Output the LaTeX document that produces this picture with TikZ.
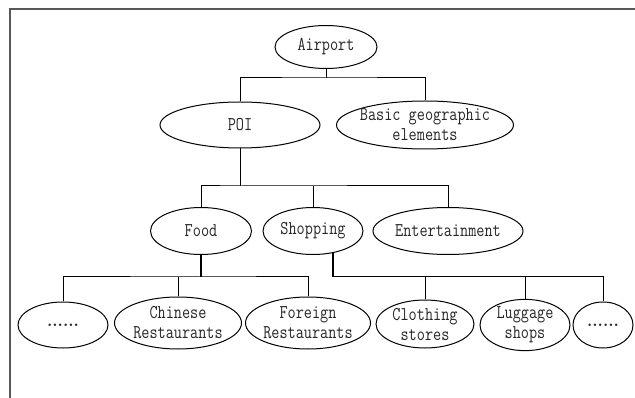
\documentclass[tikz,border=0pt]{standalone}
\usepackage{fontspec}
\setmonofont[FakeStretch=0.81]{Latin Modern Mono}
\usetikzlibrary{shapes.geometric}

\begin{document}
\begin{tikzpicture}[x=1pt, y=-1pt,
    topic/.style={draw, ellipse, inner sep=0pt, line width=1pt, align=center,
      font=\fontsize{19.5}{20}\selectfont\ttfamily, text=black!85},
    more/.style={topic, font=\fontsize{17}{20}\selectfont\rmfamily\bfseries},
    link/.style={line width=1pt}]
    \useasboundingbox (0,0) rectangle (635,398);
    \draw[black!65, line width=1.5pt] (10,398) -- (10,9) -- (635,9);

    % root and first level
    \node[topic, minimum width=102pt, minimum height=43pt] (airport) at (326,47) {Airport};
    \node[topic, minimum width=160pt, minimum height=46pt] (poi) at (240,125) {POI};
    \node[topic, minimum width=177pt, minimum height=48pt, inner xsep=-7pt] (geo) at (425,125) {Basic geographic\\elements};

    % second level
    \node[topic, minimum width=101pt, minimum height=47pt] (food) at (201,231) {Food};
    \node[topic, minimum width=100pt, minimum height=47pt] (shop) at (313,231) {Shopping};
    \node[topic, minimum width=150pt, minimum height=47pt, inner xsep=-2pt] (ent) at (448,231) {Entertainment};

    % leaves
    \node[more, minimum width=90pt, minimum height=46pt] (dotsl) at (63,325) {......};
    \node[topic, minimum width=127pt, minimum height=52pt, inner xsep=-1pt] (chinese) at (178,323) {Chinese\\Restaurants};
    \node[topic, minimum width=125pt, minimum height=52pt, inner xsep=-1pt] (foreign) at (308,323) {Foreign\\Restaurants};
    \node[topic, minimum width=98pt, minimum height=48pt] (cloth) at (425,324) {Clothing\\stores};
    \node[topic, minimum width=90pt, minimum height=49pt] (luggage) at (525,325) {Luggage\\shops};
    \node[more, minimum width=60pt, minimum height=46pt] (dotsr) at (603,325) {......};

    \coordinate (b1) at (326,78);
    \coordinate (b2) at (240,186);
    \coordinate (b3) at (201,277);
    \coordinate (b4) at (333,277);

    \draw[link] (airport.south) -- (b1);
    \draw[link] (poi.north) |- (b1) -| (geo.north);

    \draw[link] (poi.south) -- (b2);
    \draw[link] (food.north) |- (b2) -| (ent.north);
    \draw[link] (shop.north) -- (shop.north |- b2);

    \draw[link, line width=1.4pt] (food.south) -- (b3);
    \draw[link] (dotsl.north) |- (b3) -| (foreign.north);
    \draw[link] (chinese.north) -- (chinese.north |- b3);

    \draw[link, line width=1.4pt] (b4 |- shop.south) ++(0,-3) -- (b4);
    \draw[link] (b4) -| (dotsr.north);
    \draw[link] (cloth.north) -- (cloth.north |- b4);
    \draw[link] (luggage.north) -- (luggage.north |- b4);
\end{tikzpicture}
\end{document}
